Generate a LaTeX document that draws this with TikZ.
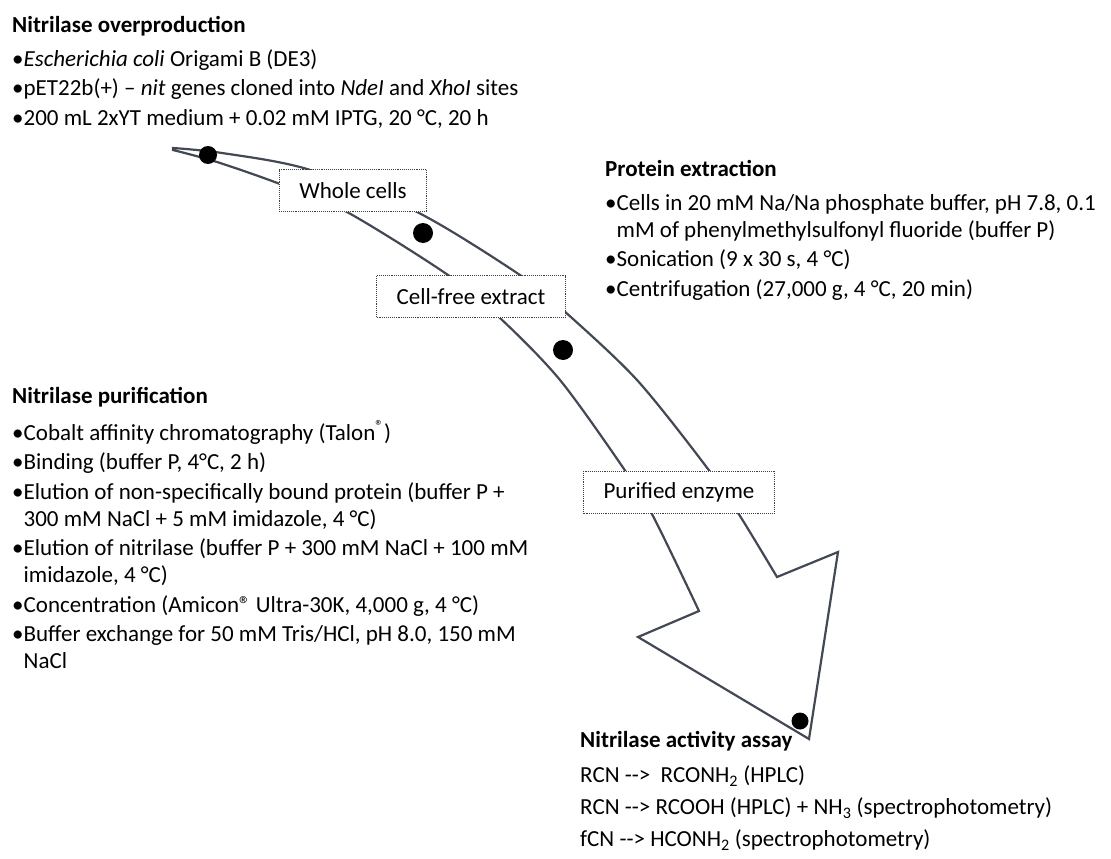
\documentclass[tikz,border=0pt]{standalone}
\usepackage{fontspec}
\setmainfont{Carlito}

\definecolor{arrowgrey}{RGB}{66,72,84}
\newcommand{\rxnarrow}{-\kern0pt-\kern0pt>}

\tikzset{
  heading/.style={anchor=base west, inner sep=0pt, font=\fontsize{23}{28.4}\selectfont\bfseries},
  steplist/.style={anchor=north west, inner sep=0pt, align=left, font=\fontsize{23}{27.2}\selectfont},
  stagebox/.style={draw=black!75, densely dotted, line width=0.9pt, fill=white,
    inner xsep=20pt, minimum height=42pt, font=\fontsize{23}{28}\selectfont}
}

\begin{document}
\begin{tikzpicture}[x=1pt,y=-1pt]
\useasboundingbox (0,0) rectangle (1111,859);

% curved process arrow
\draw[arrowgrey, line width=2.2pt, line join=miter]
  plot[smooth] coordinates {(173,148) (222,153) (307,169) (417,212) (520,275) (563,310) (637,380) (708,469) (740,516) (777,577)}
  -- (838,552) -- (809,739) -- (638,637)
  -- plot[smooth] coordinates {(699,611) (653,516) (624,469) (560,380) (500,318) (448,275) (347,212) (280,184) (217,162) (173,150)}
  -- cycle;

% stages on the arrow
\node[stagebox] (whole) at (353,190.5) {Whole cells};
\node[stagebox] (cellfree) at (471,296.5) {Cell-free extract};
\node[stagebox] (purified) at (679,492) {Purified enzyme};

% dots
\fill[black] (208,155) circle (9pt);
\fill[black] (423,233) circle (10pt);
\fill[black] (563,350) circle (10pt);
\fill[black] (800,721) circle (8.5pt);

% nitrilase overproduction
\node[heading] (prodhead) at (12,33) {Nitrilase overproduction};
\node[steplist] (prodlist) at (12,47) {\strut•\textit{Escherichia coli} Origami B (DE3)\\[2.2pt]
  •pET22b(+) – \textit{nit} genes cloned into \textit{NdeI} and \textit{XhoI} sites\\[2.2pt]
  •200 mL 2xYT medium + 0.02 mM IPTG, 20 °C, 20 h};

% protein extraction
\node[heading] (exthead) at (605,176) {Protein extraction};
\node[steplist] (extlist) at (605,191) {\strut•Cells in 20 mM Na/Na phosphate buffer, pH 7.8, 0.1\\
  \phantom{•}mM of phenylmethylsulfonyl fluoride (buffer P)\\[2.2pt]
  •Sonication (9 x 30 s, 4 °C)\\[2.2pt]
  •Centrifugation (27,000 g, 4 °C, 20 min)};

% nitrilase purification
\node[heading] (purhead) at (12,403) {Nitrilase purification};
\node[steplist] (purlist) at (12,420) {\strut•Cobalt affinity chromatography (Talon\textsuperscript{®})\\[2.2pt]
  •Binding (buffer P, 4°C, 2 h)\\[2.2pt]
  •Elution of non-specifically bound protein (buffer P +\\
  \phantom{•}300 mM NaCl + 5 mM imidazole, 4 °C)\\[2.2pt]
  •Elution of nitrilase (buffer P + 300 mM NaCl + 100 mM\\
  \phantom{•}imidazole, 4 °C)\\[2.2pt]
  •Concentration (Amicon® Ultra-30K, 4,000 g, 4 °C)\\[2.2pt]
  •Buffer exchange for 50 mM Tris/HCl, pH 8.0, 150 mM\\
  \phantom{•}NaCl};

% nitrilase activity assay
\node[heading] (assayhead) at (580,747) {Nitrilase activity assay};
\node[steplist, font=\fontsize{23}{32}\selectfont] (assaylist) at (580,760) {\strut RCN \rxnarrow\ \ RCONH\textsubscript{2} (HPLC)\\
  RCN \rxnarrow\ RCOOH (HPLC) + NH\textsubscript{3} (spectrophotometry)\\
  fCN \rxnarrow\ HCONH\textsubscript{2} (spectrophotometry)};
\end{tikzpicture}
\end{document}
